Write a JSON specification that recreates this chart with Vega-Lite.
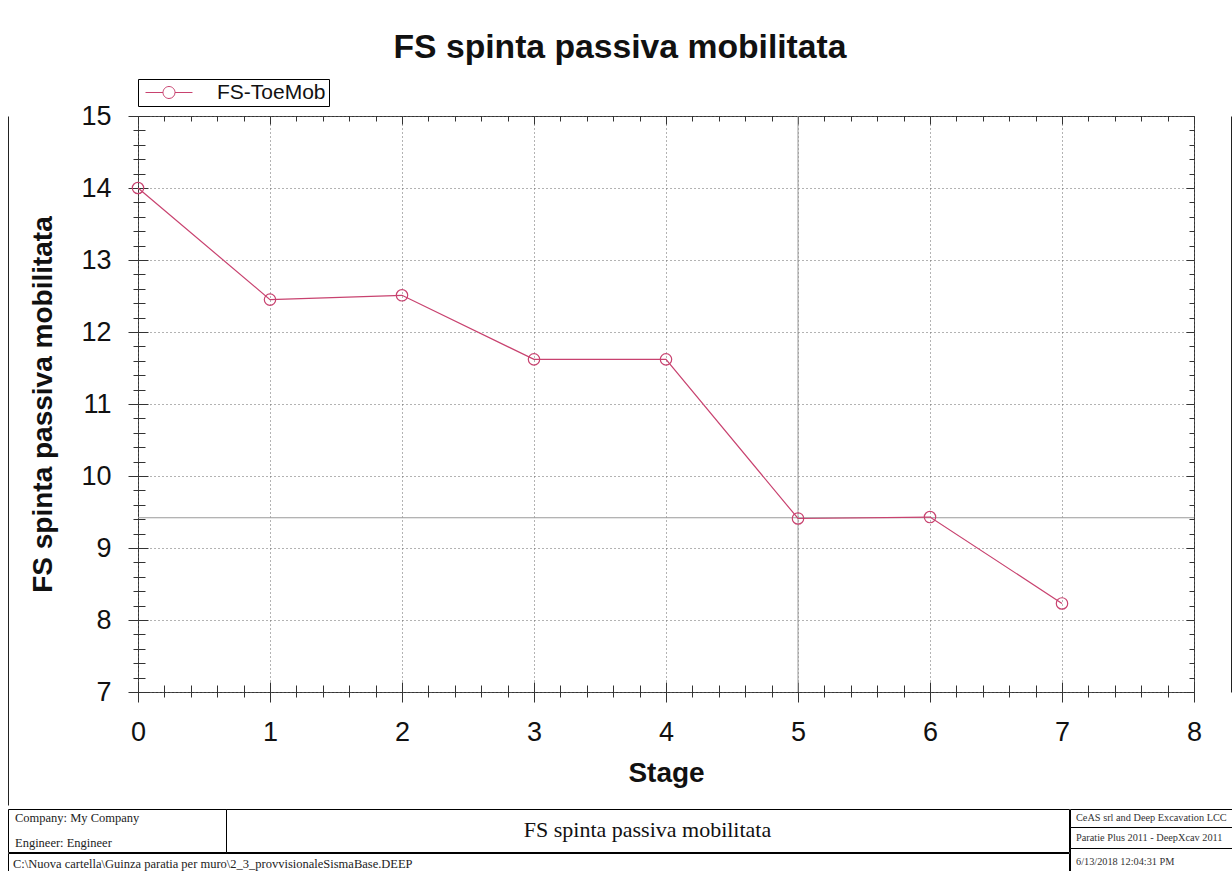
{
  "$schema": "https://vega.github.io/schema/vega-lite/v6.json",
  "padding": {"left": 7, "top": 30, "right": 1, "bottom": 0},
  "background": "#ffffff",
  "title": {"text": "FS spinta passiva mobilitata", "fontSize": 33.7, "fontWeight": "bold", "font": "Liberation Sans", "anchor": "middle", "color": "#111111", "offset": 14},
  "spacing": 0,
  "config": {
    "font": "Liberation Sans",
    "view": {"stroke": "#000000", "strokeWidth": 1},
    "axis": {"labelFlush": false, "labelOverlap": false}
  },
  "vconcat": [
    {
      "hconcat": [
        {
          "width": 130, "height": 689,
          "view": {"stroke": null},
          "data": {"values": [{"v": 0}]},
          "mark": {"type": "point", "opacity": 0},
          "encoding": {
            "y": {"field": "v", "type": "quantitative", "scale": {"domain": [0, 1]},
              "axis": {"orient": "left", "domain": true, "domainColor": "#222222", "domainWidth": 1, "ticks": false, "labels": false, "grid": false, "title": null}}
          }
        },
        {
          "width": 1056, "height": 576,
          "view": {"stroke": "#333333", "strokeWidth": 1},
          "data": {"values": [
            {"stage": 0, "fs": 14.0, "series": "FS-ToeMob"},
            {"stage": 1, "fs": 12.45, "series": "FS-ToeMob"},
            {"stage": 2, "fs": 12.51, "series": "FS-ToeMob"},
            {"stage": 3, "fs": 11.62, "series": "FS-ToeMob"},
            {"stage": 4, "fs": 11.62, "series": "FS-ToeMob"},
            {"stage": 5, "fs": 9.41, "series": "FS-ToeMob"},
            {"stage": 6, "fs": 9.43, "series": "FS-ToeMob"},
            {"stage": 7, "fs": 8.23, "series": "FS-ToeMob"}
          ]},
          "layer": [
            {
              "mark": {"type": "point", "opacity": 0},
              "encoding": {
                "x": {"field": "stage", "type": "quantitative", "scale": {"domain": [0, 8], "nice": false, "zero": false},
                  "axis": {"orient": "bottom", "values": [0,1,2,3,4,5,6,7,8], "tickSize": -10, "tickColor": "#333333", "labels": false, "domain": false, "grid": false, "title": null}},
                "y": {"field": "fs", "type": "quantitative", "scale": {"domain": [7, 15], "nice": false, "zero": false},
                  "axis": {"orient": "left", "values": [7,8,9,10,11,12,13,14,15], "tickSize": -10, "tickColor": "#333333", "labels": false, "domain": false, "grid": false, "title": null}}
              }
            },
            {
              "mark": {"type": "point", "opacity": 0},
              "encoding": {
                "x": {"field": "stage", "type": "quantitative", "scale": {"domain": [0, 8], "nice": false, "zero": false},
                  "axis": {"orient": "bottom", "values": [0.2,0.4,0.6,0.8,1.2,1.4,1.6,1.8,2.2,2.4,2.6,2.8,3.2,3.4,3.6,3.8,4.2,4.4,4.6,4.8,5.2,5.4,5.6,5.8,6.2,6.4,6.6,6.8,7.2,7.4,7.6,7.8], "tickSize": 5, "tickColor": "#333333", "labels": false, "domain": false, "grid": false, "title": null}},
                "y": {"field": "fs", "type": "quantitative", "scale": {"domain": [7, 15], "nice": false, "zero": false},
                  "axis": {"orient": "left", "values": [7.2,7.4,7.6,7.8,8.2,8.4,8.6,8.8,9.2,9.4,9.6,9.8,10.2,10.4,10.6,10.8,11.2,11.4,11.6,11.8,12.2,12.4,12.6,12.8,13.2,13.4,13.6,13.8,14.2,14.4,14.6,14.8], "tickSize": 5, "tickColor": "#333333", "labels": false, "domain": false, "grid": false, "title": null}}
              }
            },
            {
              "mark": {"type": "point", "opacity": 0},
              "encoding": {
                "x": {"field": "stage", "type": "quantitative", "scale": {"domain": [0, 8], "nice": false, "zero": false},
                  "axis": {"orient": "bottom", "values": [0.2,0.4,0.6,0.8,1.2,1.4,1.6,1.8,2.2,2.4,2.6,2.8,3.2,3.4,3.6,3.8,4.2,4.4,4.6,4.8,5.2,5.4,5.6,5.8,6.2,6.4,6.6,6.8,7.2,7.4,7.6,7.8], "tickSize": -7, "tickColor": "#333333", "labels": false, "domain": false, "grid": false, "title": null}},
                "y": {"field": "fs", "type": "quantitative", "scale": {"domain": [7, 15], "nice": false, "zero": false},
                  "axis": {"orient": "left", "values": [7.2,7.4,7.6,7.8,8.2,8.4,8.6,8.8,9.2,9.4,9.6,9.8,10.2,10.4,10.6,10.8,11.2,11.4,11.6,11.8,12.2,12.4,12.6,12.8,13.2,13.4,13.6,13.8,14.2,14.4,14.6,14.8], "tickSize": -7, "tickColor": "#333333", "labels": false, "domain": false, "grid": false, "title": null}}
              }
            },
            {
              "mark": {"type": "point", "opacity": 0},
              "encoding": {
                "x": {"field": "stage", "type": "quantitative", "scale": {"domain": [0, 8], "nice": false, "zero": false},
                  "axis": {"orient": "top", "values": [0,1,2,3,4,5,6,7,8], "tickSize": -8, "tickColor": "#333333", "labels": false, "domain": false, "grid": false, "title": null}},
                "y": {"field": "fs", "type": "quantitative", "scale": {"domain": [7, 15], "nice": false, "zero": false},
                  "axis": {"orient": "right", "values": [7,8,9,10,11,12,13,14,15], "tickSize": -8, "tickColor": "#333333", "labels": false, "domain": false, "grid": false, "title": null}}
              }
            },
            {
              "mark": {"type": "point", "opacity": 0},
              "encoding": {
                "x": {"field": "stage", "type": "quantitative", "scale": {"domain": [0, 8], "nice": false, "zero": false},
                  "axis": {"orient": "top", "values": [0.2,0.4,0.6,0.8,1.2,1.4,1.6,1.8,2.2,2.4,2.6,2.8,3.2,3.4,3.6,3.8,4.2,4.4,4.6,4.8,5.2,5.4,5.6,5.8,6.2,6.4,6.6,6.8,7.2,7.4,7.6,7.8], "tickSize": -5, "tickColor": "#333333", "labels": false, "domain": false, "grid": false, "title": null}},
                "y": {"field": "fs", "type": "quantitative", "scale": {"domain": [7, 15], "nice": false, "zero": false},
                  "axis": {"orient": "right", "values": [7.2,7.4,7.6,7.8,8.2,8.4,8.6,8.8,9.2,9.4,9.6,9.8,10.2,10.4,10.6,10.8,11.2,11.4,11.6,11.8,12.2,12.4,12.6,12.8,13.2,13.4,13.6,13.8,14.2,14.4,14.6,14.8], "tickSize": -5, "tickColor": "#333333", "labels": false, "domain": false, "grid": false, "title": null}}
              }
            },
            {
              "mark": {"type": "point", "opacity": 0},
              "encoding": {
                "y": {"field": "fs", "type": "quantitative", "scale": {"domain": [7, 15], "nice": false, "zero": false},
                  "axis": {"orient": "right", "offset": 37, "domain": true, "domainColor": "#222222", "domainWidth": 1, "ticks": false, "labels": false, "grid": false, "title": null}}
              }
            },
            {
              "data": {"values": [{"cx": 5, "cy": 9.42}]},
              "mark": {"type": "rule", "color": "#9a9a9a", "strokeWidth": 1},
              "encoding": {"x": {"field": "cx", "type": "quantitative", "axis": null}}
            },
            {
              "data": {"values": [{"cx": 5, "cy": 9.42}]},
              "mark": {"type": "rule", "color": "#9a9a9a", "strokeWidth": 1},
              "encoding": {"y": {"field": "cy", "type": "quantitative", "axis": null}}
            },
            {
              "mark": {"type": "line", "strokeWidth": 1.2},
              "encoding": {
                "x": {"field": "stage", "type": "quantitative", "scale": {"domain": [0, 8], "nice": false, "zero": false},
                  "axis": {"orient": "bottom", "values": [0,1,2,3,4,5,6,7,8], "format": "d", "tickSize": 10, "tickColor": "#333333", "domain": false,
                    "grid": true, "gridDash": [1, 3], "gridColor": "#666666", "gridWidth": 1,
                    "labelFontSize": 27, "labelColor": "#111111", "labelPadding": 17,
                    "title": "Stage", "titleFontSize": 28, "titleFontWeight": "bold", "titleColor": "#111111", "titlePadding": 14}},
                "y": {"field": "fs", "type": "quantitative", "scale": {"domain": [7, 15], "nice": false, "zero": false},
                  "axis": {"orient": "left", "values": [7,8,9,10,11,12,13,14,15], "format": "d", "tickSize": 10, "tickColor": "#333333", "domain": false,
                    "grid": true, "gridDash": [1, 3], "gridColor": "#666666", "gridWidth": 1,
                    "labelFontSize": 27, "labelColor": "#111111", "labelPadding": 17,
                    "title": "FS spinta passiva mobilitata", "titleFontSize": 28, "titleFontWeight": "bold", "titleColor": "#111111", "titlePadding": 23}},
                "color": {"field": "series", "type": "nominal", "scale": {"range": ["#c8426f"]},
                  "legend": {"orient": "none", "legendX": 130, "legendY": -37, "title": null,
                    "symbolType": "M-1,0H1.92M3.92,0H6.83M1.92,0A1,1 0 1,1 3.92,0A1,1 0 1,1 1.92,0",
                    "symbolSize": 144, "symbolStrokeWidth": 1, "symbolFillColor": "transparent",
                    "labelFont": "Liberation Sans", "labelFontSize": 21, "labelColor": "#111111", "labelOffset": 55,
                    "strokeColor": "#000000", "fillColor": "#ffffff", "padding": 3}}
              }
            },
            {
              "mark": {"type": "point", "filled": false, "size": 130, "strokeWidth": 1.2, "opacity": 1},
              "encoding": {
                "x": {"field": "stage", "type": "quantitative", "axis": null},
                "y": {"field": "fs", "type": "quantitative", "axis": null},
                "color": {"field": "series", "type": "nominal", "scale": {"range": ["#c8426f"]},
                  "legend": {"orient": "none", "legendX": 130, "legendY": -37, "title": null,
                    "symbolType": "M-1,0H1.92M3.92,0H6.83M1.92,0A1,1 0 1,1 3.92,0A1,1 0 1,1 1.92,0",
                    "symbolSize": 144, "symbolStrokeWidth": 1, "symbolFillColor": "transparent",
                    "labelFont": "Liberation Sans", "labelFontSize": 21, "labelColor": "#111111", "labelOffset": 55,
                    "strokeColor": "#000000", "fillColor": "#ffffff", "padding": 3}}
              }
            }
          ],
          "resolve": {"axis": {"x": "independent", "y": "independent"}}
        }
      ],
      "spacing": 0,
      "bounds": "flush"
    },
    {
      "hconcat": [
        {
          "vconcat": [
            {
              "hconcat": [
                {
                  "width": 218, "height": 43,
                  "data": {"values": [{"t": "Company: My Company", "r": "a"}, {"t": "Engineer: Engineer", "r": "b"}]},
                  "mark": {"type": "text", "align": "left", "baseline": "middle", "dx": 7, "font": "Liberation Serif", "fontSize": 12.5, "color": "#222222"},
                  "encoding": {
                    "text": {"field": "t"},
                    "x": {"datum": 0, "type": "quantitative", "scale": {"domain": [0, 1]}, "axis": null},
                    "y": {"field": "r", "type": "nominal", "axis": null, "scale": {"type": "point", "padding": 0.36}}
                  }
                },
                {
                  "width": 843, "height": 43,
                  "data": {"values": [{"t": "FS spinta passiva mobilitata"}]},
                  "mark": {"type": "text", "align": "center", "baseline": "middle", "dy": -1, "font": "Liberation Serif", "fontSize": 22, "color": "#111111"},
                  "encoding": {
                    "text": {"field": "t"},
                    "x": {"datum": 0.5, "type": "quantitative", "scale": {"domain": [0, 1]}, "axis": null},
                    "y": {"datum": 0.5, "type": "quantitative", "scale": {"domain": [0, 1]}, "axis": null}
                  }
                }
              ],
              "spacing": 0,
              "bounds": "flush"
            },
            {
              "width": 1061, "height": 19,
              "data": {"values": [{"t": "C:\\Nuova cartella\\Guinza paratia per muro\\2_3_provvisionaleSismaBase.DEEP"}]},
              "mark": {"type": "text", "align": "left", "baseline": "middle", "dx": 5, "dy": 1, "font": "Liberation Serif", "fontSize": 12.5, "color": "#222222"},
              "encoding": {
                "text": {"field": "t"},
                "x": {"datum": 0, "type": "quantitative", "scale": {"domain": [0, 1]}, "axis": null}
              }
            }
          ],
          "spacing": -2
        },
        {
          "vconcat": [
            {
              "width": 162, "height": 18,
              "data": {"values": [{"t": "CeAS srl and Deep Excavation LCC"}]},
              "mark": {"type": "text", "align": "left", "baseline": "middle", "dx": 6, "font": "Liberation Serif", "fontSize": 10.3, "color": "#333333"},
              "encoding": {"text": {"field": "t"}, "x": {"datum": 0, "type": "quantitative", "scale": {"domain": [0, 1]}, "axis": null}}
            },
            {
              "width": 162, "height": 21,
              "data": {"values": [{"t": "Paratie Plus 2011 - DeepXcav 2011"}]},
              "mark": {"type": "text", "align": "left", "baseline": "middle", "dx": 6, "font": "Liberation Serif", "fontSize": 10.3, "color": "#333333"},
              "encoding": {"text": {"field": "t"}, "x": {"datum": 0, "type": "quantitative", "scale": {"domain": [0, 1]}, "axis": null}}
            },
            {
              "width": 162, "height": 23,
              "data": {"values": [{"t": "6/13/2018 12:04:31 PM"}]},
              "mark": {"type": "text", "align": "left", "baseline": "middle", "dx": 6, "dy": 2, "font": "Liberation Serif", "fontSize": 10.3, "color": "#333333"},
              "encoding": {"text": {"field": "t"}, "x": {"datum": 0, "type": "quantitative", "scale": {"domain": [0, 1]}, "axis": null}}
            }
          ],
          "spacing": 0,
          "bounds": "flush"
        }
      ],
      "spacing": -2
    }
  ]
}
